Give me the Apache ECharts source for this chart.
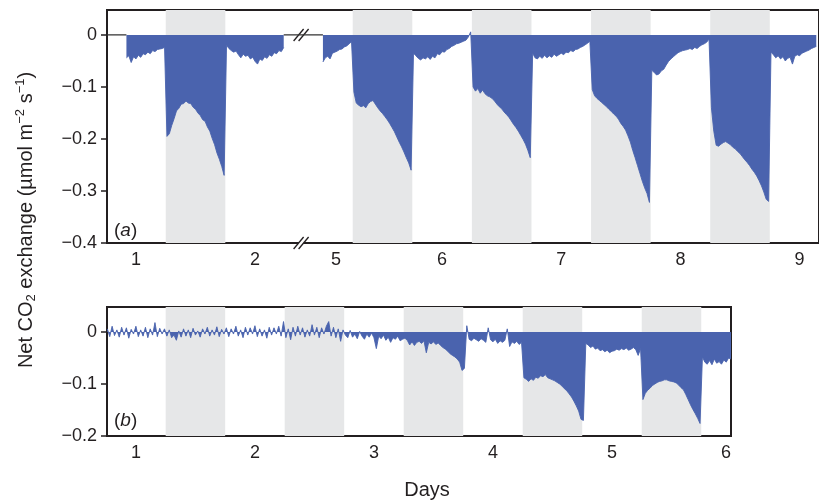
<!DOCTYPE html>
<html lang="en">
<head>
<meta charset="utf-8">
<title>Net CO2 exchange</title>
<script src="https://cdn.jsdelivr.net/npm/echarts@6/dist/echarts.min.js"></script>
<style>
    html, body { margin: 0; padding: 0; background: #fff; }
    #chart { width: 819px; height: 502px; }
</style>
</head>
<body>
<div id="chart"></div>
<script>
    // flux in thousandths of umol m-2 s-1, sampled every 0.02 day
    const STEP = 0.02;

    // panel (a): days 0.92-2.24 and 5.00-9.14 (days 3-4 cut out of the axis)
    const aEarlyStart = 0.92;
    const aEarly = [
        -44, -40, -53, -42, -46, -39, -43, -36, -38, -33, -36, -30, -32, -28, -27, -26, -24,
        -195, -190, -174, -161, -146, -141, -133, -132, -127, -131, -132, -139, -143, -150, -155, -163, -166, -177, -185, -199, -211, -227, -239, -253, -270,
        -20, -26, -30, -33, -31, -38, -44, -37, -41, -39, -46, -43, -51, -56, -46, -49, -42, -45, -38, -41, -34, -36, -30, -32, -24
    ];
    const aLateStart = 5.00;
    const aLate = [
        -52, -44, -41, -46, -35, -33, -31, -28, -27, -23, -21, -17, -13,
        -110, -131, -135, -138, -136, -140, -132, -128, -126, -133, -140, -146, -151, -157, -163, -170, -178, -186, -196, -206, -215, -225, -236, -246, -260,
        -35, -40, -45, -48, -44, -46, -42, -47, -41, -44, -36, -38, -32, -33, -28, -26, -22, -20, -17, -16, -14, -12, -10, -4, 6,
        -100, -108, -103, -112, -106, -113, -117, -119, -122, -127, -133, -138, -142, -148, -153, -158, -165, -172, -178, -185, -193, -201, -210, -222, -236,
        -35, -44, -46, -41, -45, -39, -44, -40, -43, -37, -41, -38, -35, -38, -33, -34, -30, -32, -28, -27, -24, -22, -19, -16, -12,
        -105, -117, -122, -126, -130, -134, -138, -143, -147, -152, -156, -162, -170, -176, -183, -194, -206, -222, -236, -251, -266, -281, -294, -305, -322,
        -68, -72, -77, -75, -69, -66, -58, -51, -46, -42, -38, -34, -32, -30, -29, -28, -26, -28, -24, -26, -22, -19, -17, -14, -8,
        -140, -185, -212, -214, -210, -207, -205, -208, -211, -216, -219, -224, -228, -234, -240, -245, -251, -258, -264, -271, -280, -290, -302, -316, -320,
        -33, -38, -44, -40, -46, -42, -50, -45, -43, -56, -41, -38, -40, -35, -33, -31, -29, -26, -24, -22
    ];

    // panel (b): days 0.76-6.00
    const bStart = 0.76;
    const bFlux = [
        6, -9, 11, -7, 4, -10, 9, -6, 8, -12, 5, -4, 11, -9, 4, -8, 9, -11, 6, -6, 18, -9, 7, -4, 6,
        -8, 4, -11, -6, -16, 2, -10, 6, -8, 4, -11, 7, -6, 2, -10, 6, -4, 9, -8, 4, -6, 10, -9, 5, -4,
        8, -9, 6, -4, 11, -8, 4, -11, 9, -6, 8, -4, 12, -9, 6, -8, 4, -12, 9, -6, 8, -4, 11, -8, 20,
        -11, 6, -15, 9, -8, 11, -6, 8, -10, 4, -8, 14, -6, 9, -11, 8, -4, 11, 20, -8, 9, -11, 6, -18, 4,
        -6, -11, 3, -10, -4, -13, 1, -8, -14, -4, -10, -2, -11, -32, -8, -13, -6, -16, -10, -20, -11, -14, -8, -17, -14,
        -12, -16, -25, -19, -26, -20, -18, -22, -17, -40, -20, -23, -19, -24, -21, -26, -30, -33, -37, -42, -45, -48, -52, -58, -74,
        -70, 12, -14, -17, -12, -15, -18, -13, -16, -20, 8, -15, -19, -14, -22, -17, -20, -16, 6, -28, -19, -22, -18, -24, -20,
        -88, -91, -95, -90, -93, -87, -89, -84, -86, -82, -88, -90, -92, -94, -97, -100, -104, -109, -113, -119, -125, -133, -142, -152, -168,
        -170, -22, -25, -30, -27, -33, -31, -36, -34, -38, -35, -40, -37, -36, -33, -35, -32, -34, -31, -35, -33, -30, -34, -45, -32,
        -130, -118, -112, -108, -103, -100, -97, -95, -94, -92, -92, -94, -95, -96, -98, -102, -107, -111, -120, -130, -140, -149, -157, -166, -176,
        -48, -58, -62, -55, -63, -52, -60, -57, -62, -54, -58, -50, -52
    ];

    // shaded periods (days)
    const aBands = [[1.25, 1.75], [5.25, 5.75], [6.25, 6.75], [7.25, 7.75], [8.25, 8.75]];
    const bBands = [[1.25, 1.75], [2.25, 2.75], [3.25, 3.75], [4.25, 4.75], [5.25, 5.75]];

    const aDayTicks = [1, 2, 5, 6, 7, 8, 9];
    const bDayTicks = [1, 2, 3, 4, 5, 6];
    const aFluxTicks = [0, -0.1, -0.2, -0.3, -0.4];
    const bFluxTicks = [0, -0.1, -0.2];

    // panel (a) axis is squeezed: days after the break are shifted left by GAP
    const GAP = 2.431;
    const BREAK_AT = 2.39;
    function squeeze(d) {
        return d > 3 ? d - GAP : d;
    }
    function unsqueeze(v) {
        return v > BREAK_AT ? v + GAP : v;
    }

    const blue = '#4a63ae';
    const shade = '#e6e7e8';
    const ink = '#231f20';
    const font = '"Liberation Sans", Arial, Helvetica, sans-serif';

    function toSeries(start, vals, squeezed) {
        return vals.map(function (v, i) {
            let d = start + i * STEP;
            return [squeezed ? squeeze(d) : d, v / 1000];
        });
    }

    function bandArea(bands, squeezed) {
        return {
            silent: true,
            itemStyle: {color: shade, borderWidth: 0},
            label: {show: false},
            data: bands.map(function (b) {
                return [{xAxis: squeezed ? squeeze(b[0]) : b[0]}, {xAxis: squeezed ? squeeze(b[1]) : b[1]}];
            })
        };
    }

    function fluxLabel(v) {
        if (Math.abs(v) < 1e-9) return '0';
        return '\u2212' + Math.abs(v).toFixed(1);
    }

    const X_MIN = 0.757;
    const aXMax = X_MIN + 714 / 119.5;
    const bXMax = 6.0;

    function xAxisOf(gridIndex, max, ticks, squeezed) {
        const vals = ticks.map(function (t) { return squeezed ? squeeze(t) : t; });
        return {
            type: 'value', gridIndex: gridIndex, min: X_MIN, max: max,
            axisLine: {show: false}, axisTick: {show: false}, splitLine: {show: false},
            axisLabel: {
                customValues: vals, margin: 8, color: ink, fontSize: 18, fontFamily: font,
                alignMaxLabel: squeezed ? 'center' : 'right',
                formatter: function (v) {
                    let d = Math.round(squeezed ? unsqueeze(v) : v);
                    // the first label after the break sits a little right of its day
                    return squeezed && v > BREAK_AT && d === ticks[2] ? '{nudge|' + d + '}' : String(d);
                },
                rich: {nudge: {padding: [0, 0, 0, 26], fontSize: 18, fontFamily: font, color: ink}}
            }
        };
    }

    function yAxisOf(gridIndex, min, ticks) {
        return {
            type: 'value', gridIndex: gridIndex, min: min, max: 0.048,
            axisLine: {show: false}, splitLine: {show: false},
            axisTick: {show: true, inside: false, length: 6, customValues: ticks, lineStyle: {color: ink, width: 1.5}},
            axisLabel: {customValues: ticks, margin: 10, color: ink, fontSize: 18, fontFamily: font, formatter: fluxLabel}
        };
    }

    function areaSeries(x, y, data) {
        return {
            type: 'line', xAxisIndex: x, yAxisIndex: y, data: data, z: 3,
            symbol: 'none', smooth: false, silent: true,
            lineStyle: {color: blue, width: 0.9},
            areaStyle: {color: blue, opacity: 1}
        };
    }

    const earlyEnd = aEarlyStart + (aEarly.length - 1) * STEP;

    let chart = echarts.init(document.getElementById('chart'));

    let option = {
        animation: false,
        backgroundColor: '#fff',
        grid: [
            {left: 107, top: 10, width: 714, height: 233, show: true, borderColor: ink, borderWidth: 2, backgroundColor: 'transparent'},
            {left: 107, top: 307, width: 624, height: 129, show: true, borderColor: ink, borderWidth: 2, backgroundColor: 'transparent'}
        ],
        xAxis: [
            xAxisOf(0, aXMax, aDayTicks, true),
            xAxisOf(1, bXMax, bDayTicks, false)
        ],
        yAxis: [
            yAxisOf(0, -0.4, aFluxTicks),
            yAxisOf(1, -0.2, bFluxTicks)
        ],
        series: [
            {
                // zero reference line of panel (a) where there is no record; carries the shading
                type: 'line', xAxisIndex: 0, yAxisIndex: 0, z: 1, symbol: 'none', silent: true,
                data: [[X_MIN, 0], [aEarlyStart, 0], ['-', '-'], [earlyEnd, 0], [squeeze(aLateStart), 0]],
                lineStyle: {color: '#333', width: 1.2},
                markArea: bandArea(aBands, true)
            },
            areaSeries(0, 0, toSeries(aEarlyStart, aEarly, true)),
            areaSeries(0, 0, toSeries(aLateStart, aLate, true)),
            {
                type: 'line', xAxisIndex: 1, yAxisIndex: 1, z: 1, symbol: 'none', silent: true,
                data: [[X_MIN, 0]],
                lineStyle: {opacity: 0},
                markArea: bandArea(bBands, false)
            },
            areaSeries(1, 1, toSeries(bStart, bFlux, false))
        ]
    };

    chart.setOption(option);

    function breakMark(p) {
        return {
            type: 'group', x: p[0], y: p[1], z: 100, children: [
                {type: 'polygon', shape: {points: [[-8, 6], [-3, 6], [7, -6], [2, -6]]}, style: {fill: '#fff'}},
                {type: 'line', shape: {x1: -8, y1: 6, x2: 2, y2: -6}, style: {stroke: ink, lineWidth: 1.3}},
                {type: 'line', shape: {x1: -3, y1: 6, x2: 7, y2: -6}, style: {stroke: ink, lineWidth: 1.3}}
            ]
        };
    }

    const titleRich = {
        sub: {fontSize: 13, lineHeight: 13, verticalAlign: 'bottom', fontFamily: font, fill: ink},
        sup: {fontSize: 13, lineHeight: 13, verticalAlign: 'top', fontFamily: font, fill: ink}
    };
    const italic = {it: {fontStyle: 'italic', fontSize: 19, fontFamily: font, fill: ink}};

    chart.setOption({
        graphic: [
            breakMark(chart.convertToPixel({gridIndex: 0}, [BREAK_AT, 0])),
            breakMark(chart.convertToPixel({gridIndex: 0}, [BREAK_AT, -0.4])),
            {
                type: 'text', x: 26, y: 220, rotation: Math.PI / 2, z: 100,
                style: {
                    text: 'Net CO{sub|2} exchange (\u00b5mol m{sup|\u22122} s{sup|\u22121})',
                    fontSize: 20, lineHeight: 24, fontFamily: font, fill: ink,
                    align: 'center', verticalAlign: 'middle', rich: titleRich
                }
            },
            {
                type: 'text', x: 114, y: 231, z: 100,
                style: {text: '({it|a})', fontSize: 19, fontFamily: font, fill: ink, verticalAlign: 'middle', rich: italic}
            },
            {
                type: 'text', x: 114, y: 421, z: 100,
                style: {text: '({it|b})', fontSize: 19, fontFamily: font, fill: ink, verticalAlign: 'middle', rich: italic}
            },
            {
                type: 'text', x: 427, y: 490, z: 100,
                style: {text: 'Days', fontSize: 20, fontFamily: font, fill: ink, align: 'center', verticalAlign: 'middle'}
            }
        ]
    });
</script>
</body>
</html>
